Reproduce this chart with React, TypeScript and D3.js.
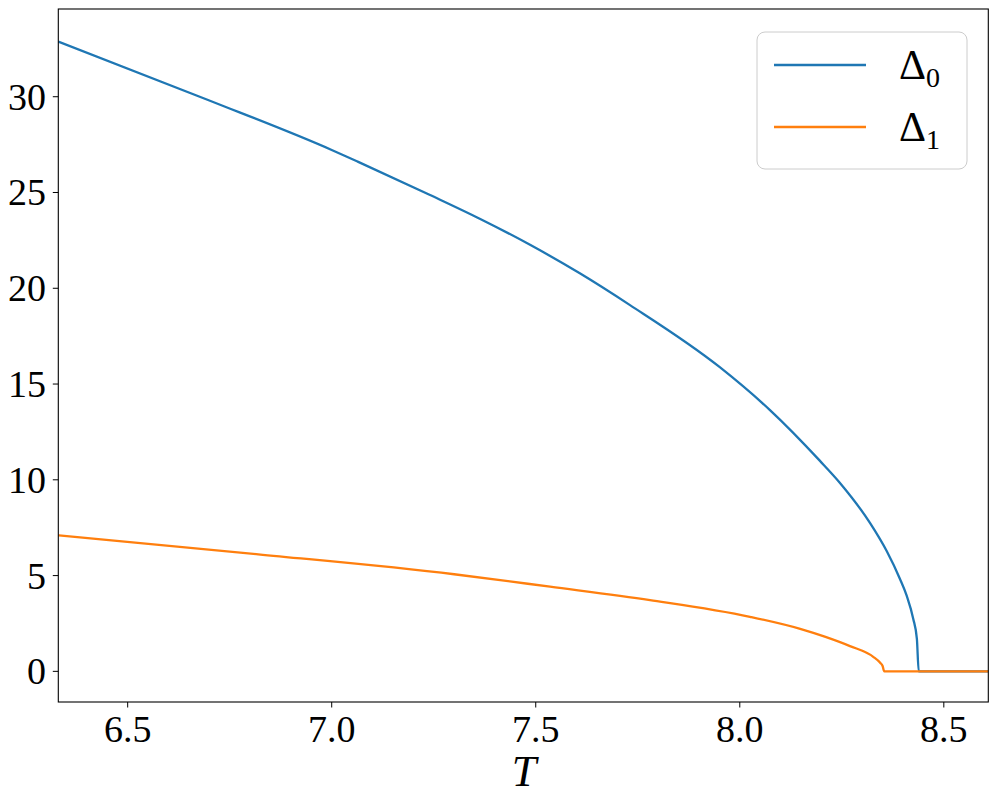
import React from "react";
import * as d3 from "d3";

const tDelta0 = [6.330, 6.697, 7.0, 7.065, 7.241, 7.364, 7.486, 7.608, 7.731, 7.951, 8.074, 8.196, 8.245, 8.319, 8.36, 8.392, 8.409, 8.425, 8.434, 8.4385, 8.5, 8.609];
const delta0 = [32.88, 29.83, 27.22, 26.60, 24.87, 23.62, 22.27, 20.78, 19.12, 15.88, 13.64, 11.0, 9.85, 7.75, 6.28, 4.85, 3.95, 2.75, 1.7, 0, 0, 0];

const tDelta1 = [6.330, 6.82, 7.30, 7.535, 7.78, 8.025, 8.148, 8.21, 8.27, 8.327, 8.344, 8.35, 8.354, 8.45, 8.609];
const delta1 = [7.10, 6.11, 5.07, 4.42, 3.72, 2.85, 2.22, 1.80, 1.32, 0.76, 0.45, 0.28, 0.0, 0, 0];

const xTicks = [6.5, 7.0, 7.5, 8.0, 8.5];
const yTicks = [0, 5, 10, 15, 20, 25, 30];
const seriesNames = ["0", "1"];
const colors = ["#1f77b4", "#ff7f0e"];

const W = 997, H = 804;
const L = 58.3, R = 988.3, T = 9, B = 702;

export default function App() {
  const x = d3.scaleLinear().domain([6.330, 8.609]).range([L, R]);
  const y = d3.scaleLinear().domain([-1.60, 34.58]).range([B, T]);
  const line = d3.line<[number, number]>().x(d => x(d[0])).y(d => y(d[1])).curve(d3.curveMonotoneX);
  const s0 = tDelta0.map((t, i) => [t, delta0[i]] as [number, number]);
  const s1 = tDelta1.map((t, i) => [t, delta1[i]] as [number, number]);
  const font = "'Liberation Serif', 'DejaVu Serif', serif";
  return (
    <svg width={W} height={H} style={{ position: "absolute", left: 0, top: 0, background: "#fff" }}>
      <rect x={0} y={0} width={W} height={H} fill="#fff" />
      <defs>
        <clipPath id="plot">
          <rect x={L} y={T} width={R - L} height={B - T} />
        </clipPath>
      </defs>
      <g clipPath="url(#plot)" fill="none" strokeWidth={2.3} strokeLinejoin="round">
        <path d={line(s0) || ""} stroke={colors[0]} />
        <path d={line(s1) || ""} stroke={colors[1]} />
      </g>
      <rect x={L} y={T} width={R - L} height={B - T} fill="none" stroke="#000" strokeWidth={1.1} />
      {xTicks.map(t => (
        <g key={"x" + t}>
          <line x1={x(t)} x2={x(t)} y1={B} y2={B + 5.5} stroke="#000" strokeWidth={1} />
          <text x={x(t)} y={742} textAnchor="middle" fontFamily={font} fontSize={38}>{t.toFixed(1)}</text>
        </g>
      ))}
      {yTicks.map(v => (
        <g key={"y" + v}>
          <line x1={L - 5.5} x2={L} y1={y(v)} y2={y(v)} stroke="#000" strokeWidth={1} />
          <text x={46} y={y(v)} dy="0.34em" textAnchor="end" fontFamily={font} fontSize={38}>{v}</text>
        </g>
      ))}
      <text x={524} y={786} textAnchor="middle" fontFamily={font} fontStyle="italic" fontSize={44}>T</text>
      <rect x={757} y={32} width={210} height={137} rx={8} ry={8} fill="#fff" fillOpacity={0.8} stroke="#ccc" strokeWidth={1} />
      {seriesNames.map((n, i) => (
        <g key={n}>
          <line x1={774} x2={866} y1={65 + i * 62} y2={65 + i * 62} stroke={colors[i]} strokeWidth={2.3} />
          <text x={899} y={79 + i * 62} fontFamily={font} fontSize={42}>
            Δ<tspan fontSize={28} dy={8}>{n}</tspan>
          </text>
        </g>
      ))}
    </svg>
  );
}
